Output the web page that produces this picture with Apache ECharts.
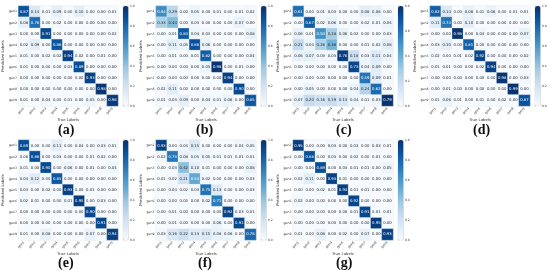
<!DOCTYPE html>
<html>
<head>
<meta charset="utf-8">
<style>
html,body{margin:0;padding:0;background:#fff}
#main{width:550px;height:274px}
</style>
<script src="https://cdn.jsdelivr.net/npm/echarts@6/dist/echarts.min.js"></script>
</head>
<body>
<div id="main"></div>
<script>
var labels = ['gen1','gen2','gen3','gen4','gen5','gen6','gen7','gen8','gen9'];

var panelA = [
	[0.87,0.14,0.01,0.09,0.00,0.10,0.00,0.00,0.01],
	[0.08,0.76,0.00,0.02,0.00,0.00,0.00,0.00,0.00],
	[0.00,0.00,0.91,0.00,0.00,0.00,0.00,0.00,0.02],
	[0.02,0.09,0.00,0.86,0.00,0.00,0.00,0.00,0.00],
	[0.01,0.00,0.02,0.02,0.94,0.02,0.00,0.01,0.00],
	[0.01,0.00,0.00,0.00,0.03,0.89,0.00,0.00,0.00],
	[0.00,0.00,0.00,0.00,0.00,0.00,0.93,0.00,0.00],
	[0.00,0.00,0.00,0.00,0.00,0.00,0.00,0.98,0.00],
	[0.01,0.00,0.04,0.00,0.01,0.00,0.05,0.00,0.96]
];
var panelB = [
	[0.64,0.29,0.00,0.05,0.00,0.01,0.00,0.01,0.02],
	[0.33,0.44,0.00,0.03,0.00,0.00,0.00,0.07,0.00],
	[0.00,0.01,0.84,0.04,0.03,0.00,0.00,0.00,0.08],
	[0.00,0.11,0.05,0.88,0.06,0.00,0.00,0.00,0.00],
	[0.00,0.01,0.00,0.01,0.82,0.00,0.00,0.00,0.04],
	[0.00,0.00,0.00,0.00,0.05,0.98,0.00,0.01,0.00],
	[0.00,0.00,0.00,0.00,0.00,0.00,0.94,0.00,0.00],
	[0.02,0.11,0.00,0.00,0.00,0.00,0.00,0.90,0.00],
	[0.01,0.03,0.09,0.00,0.04,0.01,0.06,0.00,0.85]
];
var panelC = [
	[0.61,0.00,0.01,0.03,0.00,0.00,0.08,0.06,0.00],
	[0.00,0.67,0.02,0.06,0.00,0.00,0.02,0.01,0.04],
	[0.06,0.01,0.50,0.28,0.06,0.02,0.00,0.00,0.03],
	[0.21,0.04,0.26,0.38,0.00,0.00,0.01,0.02,0.08],
	[0.06,0.07,0.03,0.03,0.76,0.18,0.03,0.11,0.04],
	[0.00,0.00,0.00,0.00,0.00,0.73,0.04,0.09,0.00],
	[0.00,0.00,0.00,0.00,0.00,0.00,0.59,0.09,0.01],
	[0.00,0.05,0.00,0.00,0.00,0.04,0.24,0.62,0.00],
	[0.07,0.20,0.16,0.19,0.13,0.04,0.01,0.03,0.79]
];
var panelD = [
	[0.82,0.14,0.00,0.08,0.01,0.06,0.00,0.01,0.01],
	[0.11,0.74,0.00,0.10,0.00,0.00,0.00,0.00,0.00],
	[0.00,0.00,0.98,0.00,0.04,0.00,0.00,0.00,0.07],
	[0.03,0.10,0.00,0.81,0.00,0.00,0.00,0.00,0.00],
	[0.02,0.00,0.01,0.02,0.92,0.00,0.00,0.00,0.02],
	[0.01,0.01,0.00,0.00,0.02,0.94,0.00,0.00,0.00],
	[0.00,0.00,0.00,0.00,0.00,0.00,0.98,0.00,0.03],
	[0.00,0.01,0.00,0.00,0.00,0.00,0.00,0.99,0.00],
	[0.01,0.06,0.01,0.00,0.01,0.00,0.02,0.00,0.87]
];
var panelE = [
	[0.89,0.00,0.00,0.11,0.00,0.04,0.00,0.03,0.01],
	[0.00,0.88,0.00,0.03,0.00,0.00,0.01,0.02,0.00],
	[0.01,0.00,0.90,0.00,0.06,0.00,0.01,0.00,0.04],
	[0.04,0.12,0.00,0.85,0.00,0.00,0.00,0.00,0.00],
	[0.03,0.00,0.02,0.00,0.93,0.00,0.01,0.00,0.00],
	[0.02,0.01,0.00,0.00,0.01,0.95,0.00,0.03,0.00],
	[0.00,0.00,0.00,0.00,0.00,0.00,0.90,0.00,0.00],
	[0.00,0.00,0.00,0.00,0.00,0.00,0.00,0.91,0.00],
	[0.01,0.00,0.08,0.00,0.00,0.00,0.07,0.00,0.94]
];
var panelF = [
	[0.93,0.00,0.04,0.15,0.00,0.00,0.00,0.04,0.05],
	[0.02,0.73,0.08,0.05,0.05,0.01,0.01,0.01,0.01],
	[0.00,0.03,0.42,0.10,0.01,0.00,0.00,0.00,0.08],
	[0.01,0.02,0.21,0.53,0.02,0.00,0.00,0.00,0.03],
	[0.00,0.04,0.02,0.03,0.75,0.13,0.00,0.00,0.03],
	[0.00,0.00,0.00,0.00,0.02,0.71,0.00,0.00,0.00],
	[0.00,0.01,0.00,0.00,0.00,0.00,0.92,0.03,0.01],
	[0.00,0.01,0.00,0.00,0.00,0.06,0.00,0.91,0.00],
	[0.03,0.16,0.22,0.13,0.15,0.08,0.06,0.00,0.78]
];
var panelG = [
	[0.95,0.00,0.00,0.03,0.00,0.03,0.00,0.03,0.01],
	[0.00,0.88,0.00,0.03,0.00,0.02,0.00,0.01,0.00],
	[0.00,0.00,0.89,0.00,0.03,0.01,0.01,0.00,0.05],
	[0.02,0.11,0.00,0.93,0.01,0.00,0.00,0.00,0.00],
	[0.00,0.00,0.02,0.01,0.94,0.01,0.01,0.00,0.00],
	[0.02,0.00,0.00,0.00,0.00,0.92,0.00,0.00,0.00],
	[0.00,0.00,0.00,0.00,0.00,0.01,0.91,0.01,0.01],
	[0.00,0.00,0.00,0.00,0.00,0.00,0.00,0.95,0.00],
	[0.01,0.00,0.08,0.00,0.02,0.00,0.07,0.00,0.93]
];

var panels = [panelA,panelB,panelC,panelD,panelE,panelF,panelG];
var captions = ['(a)','(b)','(c)','(d)','(e)','(f)','(g)'];
var barMax = [1,1,0.8,1,1,1,1];

// plot boxes, by hand from the picture
var lefts = [18,156,293,430,18,156,293];
var tops = [6,6,6,6,140,140,140];
var size = 100;
var captionX = [65,203,343,480,65,205,343];
var captionY = [131,131,131,131,264,264,264];

var blues = ['#f7fbff','#deebf7','#c6dbef','#9ecae1','#6baed6','#4292c6','#2171b5','#08519c','#08306b'];

var option = {
	backgroundColor:'#fff',
	animation:false,
	grid:[], xAxis:[], yAxis:[], visualMap:[], series:[], graphic:[]
};

panels.forEach(function(matrix,p){
	var data = [];
	var top = barMax[p];
	matrix.forEach(function(row,r){
		row.forEach(function(v,c){
			data.push({
				value:[c,r,v],
				label:{color:v > top*0.5 ? '#fff' : '#262626'}
			});
		});
	});
	var g = option.grid.length;
	// heatmap
	option.grid.push({left:lefts[p],top:tops[p],width:size,height:size,show:true,borderColor:'#ccc',borderWidth:0.5,backgroundColor:'transparent'});
	option.xAxis.push({
		type:'category',gridIndex:g,data:labels,name:'True Labels',nameLocation:'middle',nameGap:9,
		nameTextStyle:{fontSize:3.8,color:'#333',fontFamily:'DejaVu Sans'},
		axisLine:{show:false},axisTick:{show:false},splitLine:{show:false},
		axisLabel:{interval:0,rotate:45,fontSize:3.2,color:'#333',margin:2,fontFamily:'DejaVu Sans'}
	});
	option.yAxis.push({
		type:'category',gridIndex:g,data:labels,inverse:true,name:'Predicted Labels',nameLocation:'middle',nameGap:9.5,
		nameTextStyle:{fontSize:3.8,color:'#333',fontFamily:'DejaVu Sans'},
		axisLine:{show:false},axisTick:{show:false},splitLine:{show:false},
		axisLabel:{interval:0,fontSize:3.2,color:'#333',margin:1.5,fontFamily:'DejaVu Sans'}
	});
	option.series.push({
		type:'heatmap',xAxisIndex:g,yAxisIndex:g,data:data,
		label:{show:true,fontSize:3.8,fontFamily:'DejaVu Sans',
			formatter:function(o){return o.value[2].toFixed(2)}
		},
		itemStyle:{borderColor:'#f3f7fb',borderWidth:0.3},
		emphasis:{disabled:true}
	});
	option.visualMap.push({
		type:'continuous',seriesIndex:p,min:0,max:top,dimension:2,
		left:lefts[p]+size+5,top:tops[p],itemWidth:5.5,itemHeight:size,padding:0,
		calculable:false,realtime:false,showLabel:false,
		formatter:function(){return ''},
		inRange:{color:blues},textStyle:{fontSize:1,color:'rgba(0,0,0,0)'}
	});
	// colorbar tick axis, empty grid sitting on the visualMap bar
	var gc = option.grid.length;
	option.grid.push({left:lefts[p]+size+5,top:tops[p],width:5.5,height:size,show:true,borderColor:'#ccc',borderWidth:0.5,backgroundColor:'transparent'});
	option.xAxis.push({type:'value',gridIndex:gc,show:false,min:0,max:1});
	option.yAxis.push({
		type:'value',gridIndex:gc,position:'right',min:0,max:top,interval:0.2,
		axisLine:{show:false},splitLine:{show:false},
		axisTick:{show:true,length:1,lineStyle:{color:'#888',width:0.4}},
		axisLabel:{fontSize:3,color:'#333',margin:1.5,fontFamily:'DejaVu Sans',
			formatter:function(v){return v.toFixed(1)}}
	});
	option.graphic.push({
		type:'text',left:captionX[p]-7,top:captionY[p]-8,
		style:{text:captions[p],font:'bold 14px "Liberation Serif"',fill:'#111'}
	});
});

var chart = echarts.init(document.getElementById('main'));
chart.setOption(option);
</script>
</body>
</html>
